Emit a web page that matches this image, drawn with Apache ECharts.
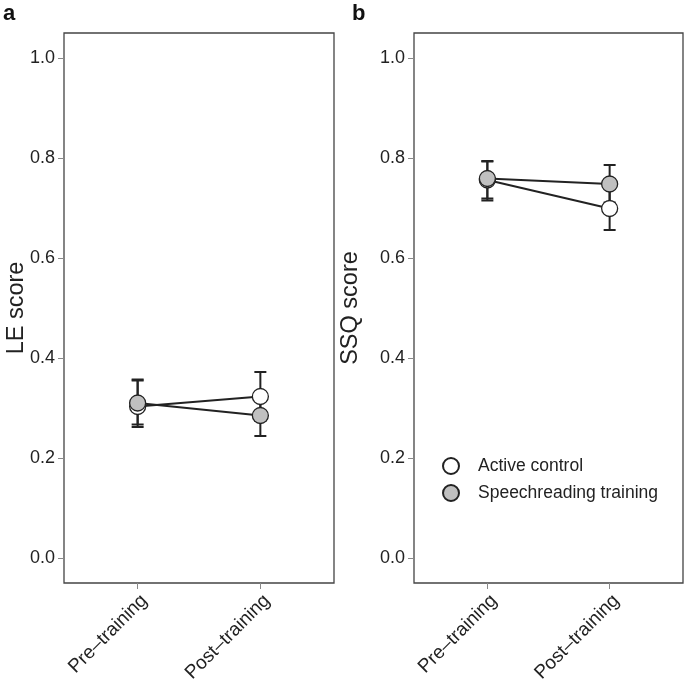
<!DOCTYPE html>
<html>
<head>
<meta charset="utf-8">
<script src="https://cdn.jsdelivr.net/npm/echarts@6/dist/echarts.min.js"></script>
<style>html,body{margin:0;padding:0;background:#fff}#c{width:685px;height:686px}</style>
</head>
<body>
<div id="c"></div>
<script>
// ---- data ----
var categories = ['Pre\u2013training', 'Post\u2013training'];
var yTicks = [0, 0.2, 0.4, 0.6, 0.8, 1.0];
var seriesNames = ['Active control', 'Speechreading training'];

// Panel a: LE score
var activeA_mean = [0.303, 0.323];
var activeA_low  = [0.262, 0.274];
var activeA_high = [0.355, 0.372];
var speechA_mean = [0.310, 0.285];
var speechA_low  = [0.267, 0.244];
var speechA_high = [0.357, 0.326];

// Panel b: SSQ score
var activeB_mean = [0.756, 0.699];
var activeB_low  = [0.719, 0.656];
var activeB_high = [0.793, 0.742];
var speechB_mean = [0.759, 0.748];
var speechB_low  = [0.715, 0.711];
var speechB_high = [0.794, 0.786];

var FONT = 'Liberation Sans, Arial, sans-serif';
var INK = '#222';
var GREY = '#c0c0c0';

function xAxisFor(idx) {
  return {
    type: 'value', gridIndex: idx, min: 0.4, max: 2.6, position: 'bottom',
    axisLine: { show: false, onZero: false },
    splitLine: { show: false },
    axisTick: { show: true, customValues: [1, 2], length: 6, lineStyle: { color: '#888', width: 1 } },
    axisLabel: {
      show: true, customValues: [1, 2], rotate: 45, margin: 8, verticalAlign: 'top',
      fontSize: 19, fontFamily: FONT, color: '#222',
      formatter: function (v) { return categories[Math.round(v) - 1]; }
    }
  };
}
function yAxisFor(idx, name, gap) {
  return {
    type: 'value', gridIndex: idx, min: -0.05, max: 1.05, position: 'left',
    name: name, nameLocation: 'middle', nameGap: gap, nameRotate: 90, nameMoveOverlap: false,
    nameTextStyle: { fontSize: 23.5, fontFamily: FONT, color: '#222' },
    axisLine: { show: false, onZero: false },
    splitLine: { show: false },
    axisTick: { show: true, customValues: yTicks, length: 6, lineStyle: { color: '#888', width: 1 } },
    axisLabel: {
      show: true, customValues: yTicks, margin: 9, fontSize: 18, fontFamily: FONT, color: '#222',
      formatter: function (v) { return v.toFixed(1); }
    }
  };
}

function errSeries(idx, low, high, z) {
  var d = [];
  for (var i = 0; i < low.length; i++) d.push([i + 1, low[i], high[i]]);
  return {
    type: 'custom', xAxisIndex: idx, yAxisIndex: idx, z: z, silent: true,
    data: d,
    renderItem: function (params, api) {
      var x = api.value(0);
      var lo = api.coord([x, api.value(1)]);
      var hi = api.coord([x, api.value(2)]);
      var hw = 6;
      var st = { stroke: INK, lineWidth: 2 };
      return {
        type: 'group',
        children: [
          { type: 'line', shape: { x1: lo[0], y1: lo[1], x2: hi[0], y2: hi[1] }, style: st },
          { type: 'line', shape: { x1: lo[0] - hw, y1: lo[1], x2: lo[0] + hw, y2: lo[1] }, style: st },
          { type: 'line', shape: { x1: hi[0] - hw, y1: hi[1], x2: hi[0] + hw, y2: hi[1] }, style: st }
        ]
      };
    }
  };
}
function lineSeries(idx, name, mean, fill, z) {
  return {
    type: 'line', name: name, xAxisIndex: idx, yAxisIndex: idx, z: z,
    data: mean.map(function (v, i) { return [i + 1, v]; }),
    symbol: 'circle', symbolSize: 16, showSymbol: true,
    itemStyle: { color: fill, borderColor: INK, borderWidth: 1.3 },
    lineStyle: { color: INK, width: 2 },
    emphasis: { disabled: true },
    animation: false
  };
}

var option = {
  animation: false,
  backgroundColor: '#fff',
  grid: [
    { left: 64, right: 351, top: 33, bottom: 103, show: true, borderColor: '#444', borderWidth: 1.3, backgroundColor: 'transparent' },
    { left: 414, right: 2, top: 33, bottom: 103, show: true, borderColor: '#444', borderWidth: 1.3, backgroundColor: 'transparent' }
  ],
  xAxis: [xAxisFor(0), xAxisFor(1)],
  yAxis: [yAxisFor(0, 'LE score', 35), yAxisFor(1, 'SSQ score', 51)],
  legend: {
    orient: 'vertical', left: 437, top: 452,
    itemWidth: 30, itemHeight: 16, itemGap: 9,
    icon: 'circle',
    data: seriesNames,
    textStyle: { fontSize: 17.5, fontFamily: FONT, color: '#222', padding: [0, 0, 0, 7] },
    selectedMode: false
  },
  graphic: [
    { type: 'text', left: 3, top: 3, style: { text: 'a', font: 'bold 22px ' + FONT, fill: '#111' } },
    { type: 'text', left: 352, top: 3, style: { text: 'b', font: 'bold 22px ' + FONT, fill: '#111' } }
  ],
  series: [
    errSeries(0, activeA_low, activeA_high, 1),
    errSeries(0, speechA_low, speechA_high, 1),
    errSeries(1, activeB_low, activeB_high, 1),
    errSeries(1, speechB_low, speechB_high, 1),
    lineSeries(0, seriesNames[0], activeA_mean, '#fff', 2),
    lineSeries(0, seriesNames[1], speechA_mean, GREY, 3),
    lineSeries(1, seriesNames[0], activeB_mean, '#fff', 2),
    lineSeries(1, seriesNames[1], speechB_mean, GREY, 3)
  ]
};
var chart = echarts.init(document.getElementById('c'), null, { renderer: 'canvas' });
chart.setOption(option);
</script>
</body>
</html>
